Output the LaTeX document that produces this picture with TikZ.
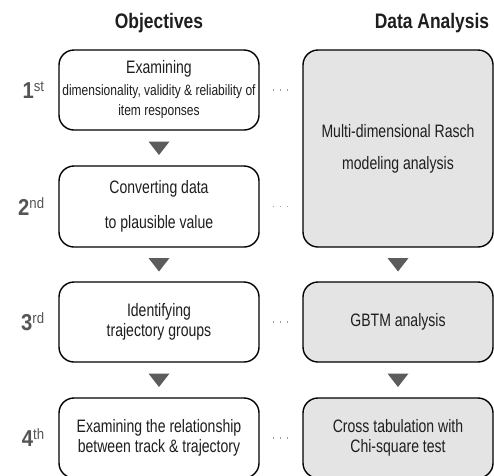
\documentclass[tikz,border=0pt]{standalone}
\usepackage{fontspec}
\setmainfont{Liberation Sans}
\newfontfamily\narrowf[FakeStretch=0.78]{Liberation Sans}
\newfontfamily\smallf[FakeStretch=0.80]{Liberation Sans}
\newfontfamily\headf[FakeStretch=0.83]{Liberation Sans}
\newfontfamily\ordf[FakeStretch=0.88]{Liberation Sans}
\usetikzlibrary{calc}
\definecolor{boxgray}{HTML}{E4E4E4}
\definecolor{txt}{HTML}{1E1E1E}
\definecolor{tricol}{HTML}{5C5C5C}
\definecolor{dotcol}{HTML}{A0A0A0}
\definecolor{ordcol}{HTML}{555555}
\begin{document}
\begin{tikzpicture}[x=1pt,y=-1pt,
  objbox/.style={draw=black, line width=1.4pt, rounded corners=15pt, minimum width=200pt,
    minimum height=80pt, align=center, text=txt, inner sep=0pt,
    font=\narrowf\fontsize{18}{20}\selectfont},
  anabox/.style={objbox, fill=boxgray, minimum width=190pt},
  header/.style={font=\headf\fontsize{21}{24}\selectfont\bfseries, text=txt},
  ordlabel/.style={anchor=east, text=ordcol, inner sep=0pt},
  dotline/.style={draw=dotcol, line width=1.6pt, dash pattern=on 1.6pt off 5.4pt, shorten <=13pt, shorten >=13pt}
]
\useasboundingbox (0,0) rectangle (494,475);
\clip (0,0) rectangle (494,475);
\fill[white] (0,0) rectangle (494,475);

\node[header] (hobj) at (159,23) {Objectives};
\node[header] (hana) at (432,23) {Data Analysis};

% objectives
\node[objbox] (b1) at (159,90) {Examining\\[2pt]{\smallf\fontsize{15}{17}\selectfont dimensionality, validity \& reliability of}\\{\smallf\fontsize{15}{17}\selectfont item responses}};
\node[objbox, minimum height=81pt] (b2) at (159,206.5) {Converting data\\[15pt]to plausible value};
\node[objbox] (b3) at (159,322) {Identifying\\trajectory groups};
\node[objbox] (b4) at (159,438) {Examining the relationship\\between track \& trajectory};

% analyses
\node[anabox, minimum height=197pt] (r1) at (398,148.5) {Multi-dimensional Rasch\\[12pt]modeling analysis};
\node[anabox] (r2) at (398,322) {GBTM analysis};
\node[anabox] (r3) at (398,438) {Cross tabulation with\\Chi-square test};

% ordinals
\newcommand{\ordtxt}[2]{{\ordf\fontsize{23}{23}\selectfont\bfseries #1}{\ordf\fontsize{15}{15}\selectfont\raisebox{7pt}{#2}}}
\node[ordlabel] (o1) at ($(b1.west)+(-14,0)$) {\ordtxt{1}{st}};
\node[ordlabel] (o2) at ($(b2.west)+(-14,0)$) {\ordtxt{2}{nd}};
\node[ordlabel] (o3) at ($(b3.west)+(-14,0)$) {\ordtxt{3}{rd}};
\node[ordlabel] (o4) at ($(b4.west)+(-14,0)$) {\ordtxt{4}{th}};

% dotted links
\draw[dotline] (b1.east) -- (b1.east -| r1.west);
\draw[dotline] (b2.east) -- (b2.east -| r1.west);
\draw[dotline] (b3.east) -- (r2.west);
\draw[dotline] (b4.east) -- (r3.west);

% triangles
\path (b1.south) -- (b2.north) coordinate[midway] (t1);
\path (b2.south) -- (b3.north) coordinate[midway] (t2);
\path (b3.south) -- (b4.north) coordinate[midway] (t3);
\path (r1.south) -- (r2.north) coordinate[midway] (u1);
\path (r2.south) -- (r3.north) coordinate[midway] (u2);
\foreach \t in {t1,t2,t3,u1,u2}{
  \fill[tricol] ($(\t)+(-10.5,-6.5)$) -- ($(\t)+(10.5,-6.5)$) -- ($(\t)+(0,7)$) -- cycle;
}
\end{tikzpicture}
\end{document}
